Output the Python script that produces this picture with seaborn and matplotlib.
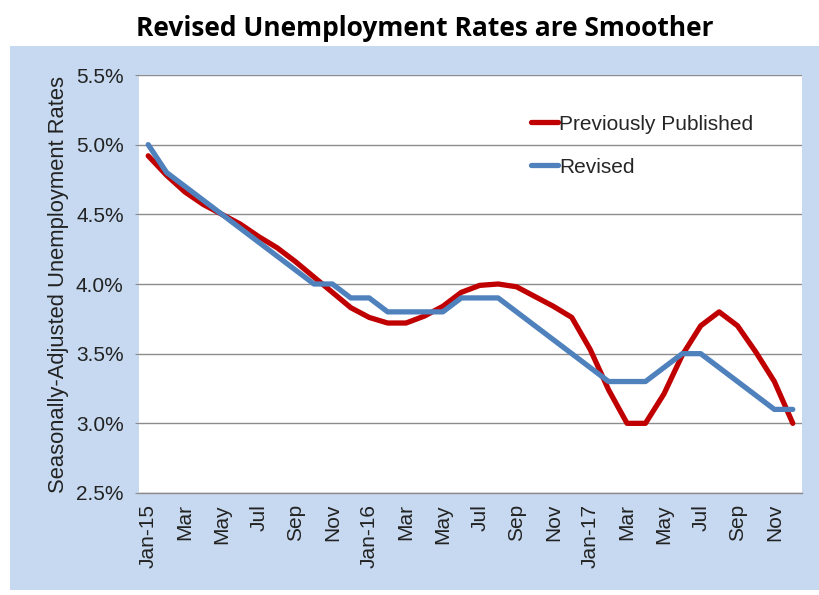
import numpy as np
import pandas as pd
import matplotlib
matplotlib.use("Agg")
import matplotlib.pyplot as plt
import seaborn as sns
from matplotlib.patches import Rectangle
from matplotlib.ticker import FuncFormatter

months = ["Jan-15", "Feb", "Mar", "Apr", "May", "Jun", "Jul", "Aug", "Sep", "Oct", "Nov", "Dec",
          "Jan-16", "Feb", "Mar", "Apr", "May", "Jun", "Jul", "Aug", "Sep", "Oct", "Nov", "Dec",
          "Jan-17", "Feb", "Mar", "Apr", "May", "Jun", "Jul", "Aug", "Sep", "Oct", "Nov", "Dec"]
previously_published = [4.92, 4.78, 4.66, 4.57, 4.50, 4.43, 4.34, 4.26, 4.16, 4.05, 3.94, 3.83,
                        3.76, 3.72, 3.72, 3.77, 3.84, 3.94, 3.99, 4.00, 3.98, 3.91, 3.84, 3.76,
                        3.53, 3.24, 3.00, 3.00, 3.21, 3.49, 3.70, 3.80, 3.70, 3.51, 3.30, 3.00]
revised = [5.0, 4.8, 4.7, 4.6, 4.5, 4.4, 4.3, 4.2, 4.1, 4.0, 4.0, 3.9,
           3.9, 3.8, 3.8, 3.8, 3.8, 3.9, 3.9, 3.9, 3.8, 3.7, 3.6, 3.5,
           3.4, 3.3, 3.3, 3.3, 3.4, 3.5, 3.5, 3.4, 3.3, 3.2, 3.1, 3.1]
series_names = ["Previously Published", "Revised"]
y_ticks = [2.5, 3.0, 3.5, 4.0, 4.5, 5.0, 5.5]

idx = np.arange(len(months))
df = pd.DataFrame({
    "month": np.concatenate([idx, idx]),
    "rate": previously_published + revised,
    "series": [series_names[0]] * len(idx) + [series_names[1]] * len(idx),
})

sns.set_style("white")
plt.rcParams["font.family"] = ["Liberation Sans", "DejaVu Sans"]

fig = plt.figure(figsize=(8.19, 5.95), dpi=100)
fig.patch.set_facecolor("white")
fig.add_artist(Rectangle((10 / 819, 1 - 590 / 595), 1 - 10 / 819, (590 - 46) / 595,
                         transform=fig.transFigure, facecolor="#C6D9F0", edgecolor="none", zorder=0))

ax = fig.add_axes([139 / 819, 1 - 493 / 595, (802 - 139) / 819, (493 - 75) / 595])
ax.set_facecolor("white")

sns.lineplot(data=df, x="month", y="rate", hue="series", palette=["#C00000", "#4F81BD"],
             linewidth=3.8, ax=ax, legend=True)

ax.set_xlim(-0.5, len(months) - 0.5)
ax.set_ylim(2.5, 5.5)
ax.set_yticks(y_ticks)
ax.yaxis.set_major_formatter(FuncFormatter(lambda v, p: f"{v:.1f}%"))
ax.set_xticks(idx[::2])
ax.set_xticklabels(months[::2], rotation=90)
ax.grid(axis="y", color="#8C8C8C", linewidth=1.0)
ax.grid(axis="x", visible=False)
ax.set_axisbelow(True)
for s in ["top", "right", "left"]:
    ax.spines[s].set_visible(False)
ax.spines["bottom"].set_color("#8C8C8C")
ax.spines["bottom"].set_linewidth(1.0)
ax.tick_params(axis="y", labelsize=15, colors="#222222", pad=8, length=3, left=True, color="#8C8C8C")
ax.tick_params(axis="x", labelsize=15, colors="#222222", pad=8, length=0)
ax.set_xlabel("")
ax.set_ylabel("Seasonally-Adjusted Unemployment Rates", fontsize=15.8, color="#222222", labelpad=5)

leg = ax.legend(loc="upper left", bbox_to_anchor=(0.575, 0.93), frameon=False, fontsize=15,
                handlelength=1.3, handletextpad=0.05, labelspacing=1.15, borderpad=0)

fig.text(425 / 819, 1 - 29 / 595, "Revised Unemployment Rates are Smoother",
         ha="center", va="center", fontsize=19, fontweight="bold", family=["Open Sans", "DejaVu Sans"],
         color="black")

fig.savefig("out.png", dpi=100)
